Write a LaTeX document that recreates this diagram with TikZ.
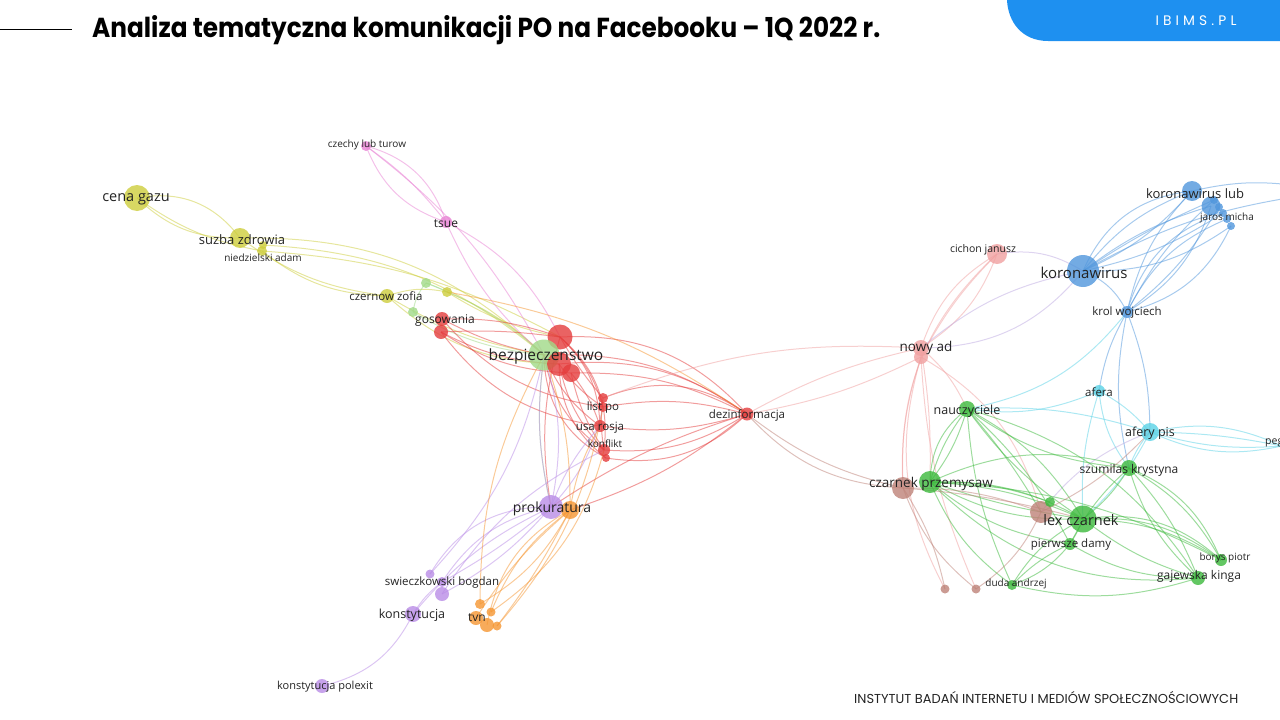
\documentclass[tikz,border=0pt]{standalone}
\usepackage{fontspec}
\usepackage{graphicx}
\newfontfamily\labfont{Open Sans}
\newfontfamily\titlefont{Poppins}
\usetikzlibrary{backgrounds}
\definecolor{cYel}{RGB}{205,205,60}
\definecolor{cLgr}{RGB}{160,218,135}
\definecolor{cRed}{RGB}{228,60,60}
\definecolor{cPink}{RGB}{232,130,212}
\definecolor{cPur}{RGB}{185,140,230}
\definecolor{cOra}{RGB}{245,150,50}
\definecolor{cSal}{RGB}{240,160,160}
\definecolor{cBlue}{RGB}{80,150,220}
\definecolor{cCyan}{RGB}{90,210,230}
\definecolor{cGreen}{RGB}{60,185,60}
\definecolor{cBrown}{RGB}{190,130,120}
\definecolor{cLav}{RGB}{190,170,225}
\definecolor{labc}{RGB}{35,35,35}
\definecolor{cBanner}{RGB}{30,144,240}
\tikzset{
  dot/.style={circle, fill=#1, fill opacity=0.8, draw=none, inner sep=0pt},
  e/.style={draw=#1, line width=1pt, draw opacity=0.5},
  lab/.style={text=labc, inner sep=0pt, yshift=-1.5pt, font=\labfont\fontsize{#1}{#1}\selectfont},
}
\begin{document}
\begin{tikzpicture}[x=1pt,y=-1pt]
\useasboundingbox (0,0) rectangle (1280,720);
\clip (0,0) rectangle (1280,720);

% header
\draw[line width=0.8pt] (0,29) coordinate (hl1) -- (72,29) coordinate (hl2);
\node[anchor=base west, inner sep=0pt] (title) at (92,37)
  {\resizebox{788pt}{22pt}{\titlefont\bfseries Analiza tematyczna komunikacji PO na Facebooku – 1Q 2022 r.}};
\fill[cBanner] (1007,0) -- (1280,0) -- (1280,41) -- (1048,41) .. controls (1022,41) and (1008,22) .. (1007,0) -- cycle;
\node[text=white, inner sep=0pt] (ibims) at (1196,21)
  {\resizebox{81pt}{!}{\titlefont\addfontfeature{LetterSpace=30}IBIMS.PL}};
\node[anchor=base west, inner sep=0pt, text=labc] (foot) at (854,703)
  {\resizebox{384pt}{!}{\titlefont\fontsize{11}{11}\selectfont INSTYTUT BADAŃ INTERNETU I MEDIÓW SPOŁECZNOŚCIOWYCH}};

% ---------------- nodes (circles)
% yellow
\node[dot=cYel, minimum size=26pt] (cena) at (137,198) {};
\node[dot=cYel, minimum size=20pt] (suzba) at (240,238) {};
\node[dot=cYel, minimum size=8pt] (niedzb) at (263,245) {};
\node[dot=cYel, minimum size=10pt] (niedz) at (262,251) {};
\node[dot=cYel, minimum size=14pt] (czernow) at (387,296) {};
\node[dot=cYel, minimum size=10pt] (yelb) at (447,292) {};
% light green
\node[dot=cLgr, minimum size=10pt] (lga) at (426,283) {};
\node[dot=cLgr, minimum size=10pt] (lgb) at (413,312) {};
% red
\node[dot=cRed, minimum size=14pt] (gos) at (442,319) {};
\node[dot=cRed, minimum size=14pt] (gosb) at (441,332) {};
\node[dot=cRed, minimum size=25pt] (reda) at (560,337) {};
\node[dot=cLgr, minimum size=31pt] (bezp) at (544,355) {};
\node[dot=cRed, minimum size=24pt] (redb) at (559,364) {};
\node[dot=cRed, minimum size=18pt] (redc) at (571,373) {};
\node[dot=cRed, minimum size=10pt] (lista) at (603,398) {};
\node[dot=cRed, minimum size=10pt] (list) at (603,407) {};
\node[dot=cRed, minimum size=12pt] (usa) at (600,426) {};
\node[dot=cRed, minimum size=12pt] (konf) at (604,450) {};
\node[dot=cRed, minimum size=8pt] (konfb) at (606,458) {};
\node[dot=cRed, minimum size=13pt] (dez) at (747,414) {};
% pink
\node[dot=cPink, minimum size=10pt] (czechy) at (366,146) {};
\node[dot=cPink, minimum size=12pt] (tsue) at (446,222) {};
% purple / orange
\node[dot=cPur, minimum size=24pt] (prok) at (551,507) {};
\node[dot=cOra, minimum size=18pt] (oraa) at (570,510) {};
\node[dot=cPur, minimum size=9pt] (swa) at (430,574) {};
\node[dot=cPur, minimum size=10pt] (sw) at (442,582) {};
\node[dot=cPur, minimum size=14pt] (swb) at (442,594) {};
\node[dot=cPur, minimum size=16pt] (konst) at (413,614) {};
\node[dot=cPur, minimum size=14pt] (polexit) at (322,686) {};
\node[dot=cOra, minimum size=10pt] (tva) at (480,604) {};
\node[dot=cOra, minimum size=9pt] (tvb) at (491,612) {};
\node[dot=cOra, minimum size=14pt] (tvn) at (476,618) {};
\node[dot=cOra, minimum size=14pt] (tvc) at (487,625) {};
\node[dot=cOra, minimum size=9pt] (tvd) at (497,626) {};
% salmon
\node[dot=cSal, minimum size=16pt] (nowy) at (921,348) {};
\node[dot=cSal, minimum size=14pt] (nowyb) at (921,357) {};
\node[dot=cSal, minimum size=20pt] (cichon) at (997,254) {};
% blue
\node[dot=cBlue, minimum size=32pt] (koro) at (1083,271) {};
\node[dot=cBlue, minimum size=20pt] (korolub) at (1192,191) {};
\node[dot=cBlue, minimum size=19pt] (blb) at (1211,206) {};
\node[dot=cBlue, minimum size=8pt] (jar1) at (1214,200) {};
\node[dot=cBlue, minimum size=8pt] (jar2) at (1219,207) {};
\node[dot=cBlue, minimum size=8pt] (jar3) at (1223,213) {};
\node[dot=cBlue, minimum size=8pt] (jar4) at (1227,219) {};
\node[dot=cBlue, minimum size=8pt] (jar5) at (1231,226) {};
\node[dot=cBlue, minimum size=12pt] (krol) at (1127,312) {};
\coordinate (offa) at (1300,196);
\coordinate (offb) at (1300,186);
% cyan
\node[dot=cCyan, minimum size=12pt] (afera) at (1099,391) {};
\node[dot=cCyan, minimum size=18pt] (aferypis) at (1150,432) {};
\coordinate (peg) at (1282,446);
% green / brown
\node[dot=cGreen, minimum size=16pt] (naucz) at (967,409) {};
\node[dot=cBrown, minimum size=22pt] (czb) at (903,488) {};
\node[dot=cGreen, minimum size=22pt] (czarnek) at (930,482) {};
\node[dot=cBrown, minimum size=22pt] (lexb) at (1041,512) {};
\node[dot=cGreen, minimum size=10pt] (grsm) at (1050,502) {};
\node[dot=cGreen, minimum size=27pt] (lex) at (1083,519) {};
\node[dot=cGreen, minimum size=12pt] (pierw) at (1070,544) {};
\node[dot=cGreen, minimum size=16pt] (szum) at (1129,468) {};
\node[dot=cGreen, minimum size=14pt] (gaj) at (1198,578) {};
\node[dot=cGreen, minimum size=12pt] (borys) at (1221,560) {};
\node[dot=cGreen, minimum size=10pt] (duda) at (1012,585) {};
\node[dot=cBrown, minimum size=9pt] (bra) at (945,589) {};
\node[dot=cBrown, minimum size=9pt] (brb) at (976,589) {};

% ---------------- edges
\begin{scope}[on background layer]
% yellow
\draw[e=cYel] (cena.center) to[bend left=32] (suzba.center);
\draw[e=cYel] (cena.center) to[bend right=22] (suzba.center);
\draw[e=cYel] (cena.center) to[bend right=12] (niedz.center);
\draw[e=cYel] (suzba.center) to[bend left=22] (bezp.center);
\draw[e=cYel] (niedzb.center) to[bend left=18] (bezp.center);
\draw[e=cYel] (niedz.center) to[bend right=18] (czernow.center);
\draw[e=cYel] (suzba.center) to[bend right=14] (czernow.center);
\draw[e=cYel] (niedz.center) to[bend left=12] (reda.center);
\draw[e=cYel] (czernow.center) to[bend left=15] (yelb.center);
\draw[e=cYel] (czernow.center) to[bend right=10] (bezp.center);
\draw[e=cYel] (czernow.center) to[bend right=20] (redb.center);
\draw[e=cYel] (yelb.center) to[bend left=10] (bezp.center);
\draw[e=cYel] (yelb.center) to[bend right=10] (reda.center);
% light green
\draw[e=cLgr] (lga.center) to[bend left=10] (bezp.center);
\draw[e=cLgr] (lgb.center) to[bend right=12] (bezp.center);
\draw[e=cLgr] (lga.center) to[bend right=15] (lgb.center);
\draw[e=cLgr] (lga.center) to[bend left=5] (yelb.center);
\draw[e=cLgr] (bezp.center) to[bend right=10] (prok.center);
% pink
\draw[e=cPink] (czechy.center) to[bend left=28] (tsue.center);
\draw[e=cPink] (czechy.center) to[bend right=25] (tsue.center);
\draw[e=cPink] (czechy.center) to[bend left=8] (tsue.center);
\draw[e=cPink] (tsue.center) to[bend left=18] (reda.center);
\draw[e=cPink] (tsue.center) to[bend right=12] (bezp.center);
\draw[e=cPink] (czechy.center) to[bend left=12] (bezp.center);
% red
\draw[e=cRed] (gos.center) to[bend left=10] (reda.center);
\draw[e=cRed] (gos.center) to[bend right=8] (bezp.center);
\draw[e=cRed] (gosb.center) to[bend right=12] (redb.center);
\draw[e=cRed] (gosb.center) to[bend left=5] (reda.center);
\draw[e=cRed] (gos.center) to[bend right=20] (list.center);
\draw[e=cRed] (gosb.center) to[bend right=22] (usa.center);
\draw[e=cRed] (gosb.center) to[bend right=15] (redc.center);
\draw[e=cRed] (reda.center) to[bend left=15] (list.center);
\draw[e=cRed] (reda.center) to[bend left=22] (usa.center);
\draw[e=cRed] (reda.center) to[bend left=28] (konf.center);
\draw[e=cRed] (reda.center) to[bend right=5] (lista.center);
\draw[e=cRed] (redb.center) to[bend right=10] (list.center);
\draw[e=cRed] (redb.center) to[bend right=15] (konf.center);
\draw[e=cRed] (redb.center) to[bend right=25] (konfb.center);
\draw[e=cRed] (redc.center) to[bend left=10] (usa.center);
\draw[e=cRed] (redc.center) to[bend right=10] (konf.center);
\draw[e=cRed] (bezp.center) to[bend right=22] (konf.center);
\draw[e=cRed] (bezp.center) to[bend right=15] (usa.center);
\draw[e=cRed] (bezp.center) to[bend right=30] (konfb.center);
\draw[e=cRed] (reda.center) to[bend left=25] (dez.center);
\draw[e=cRed] (redb.center) to[bend left=20] (dez.center);
\draw[e=cRed] (redc.center) to[bend left=14] (dez.center);
\draw[e=cRed] (bezp.center) to[bend left=18] (dez.center);
\draw[e=cRed] (lista.center) to[bend left=28] (dez.center);
\draw[e=cRed] (list.center) to[bend left=12] (dez.center);
\draw[e=cRed] (usa.center) to[bend right=12] (dez.center);
\draw[e=cRed] (konf.center) to[bend right=18] (dez.center);
\draw[e=cRed] (konfb.center) to[bend right=26] (dez.center);
\draw[e=cRed] (lista.center) to[bend right=8] (konf.center);
\draw[e=cRed] (dez.center) to[bend left=10] (oraa.center);
\draw[e=cRed] (dez.center) to[bend right=8] (prok.center);
\draw[e=cRed] (reda.center) to[bend right=12] (prok.center);
% to the right
\draw[e=cSal] (dez.center) to[bend left=8] (nowy.center);
\draw[e=cSal] (dez.center) to[bend right=8] (nowyb.center);
\draw[e=cSal] (lista.center) to[bend left=12] (nowy.center);
\draw[e=cBrown] (dez.center) to[bend right=22] (czb.center);
\draw[e=cBrown] (dez.center) to[bend right=12] (czb.center);
% purple
\draw[e=cPur] (prok.center) to[bend left=10] (bezp.center);
\draw[e=cPur] (prok.center) to[bend right=14] (bezp.center);
\draw[e=cPur] (prok.center) to[bend right=15] (list.center);
\draw[e=cPur] (prok.center) to[bend left=10] (usa.center);
\draw[e=cPur] (prok.center) to[bend right=22] (sw.center);
\draw[e=cPur] (prok.center) to[bend right=30] (swa.center);
\draw[e=cPur] (prok.center) to[bend left=10] (swb.center);
\draw[e=cPur] (prok.center) to[bend right=12] (konst.center);
\draw[e=cPur] (prok.center) to[bend left=5] (sw.center);
\draw[e=cPur] (sw.center) to[bend right=10] (konst.center);
\draw[e=cPur] (konst.center) to[bend left=25] (polexit.center);
\draw[e=cPur] (swa.center) to[bend right=15] (bezp.center);
\draw[e=cPur] (swb.center) to[bend left=15] (konf.center);
% orange
\draw[e=cOra] (oraa.center) to[bend left=15] (tva.center);
\draw[e=cOra] (oraa.center) to[bend right=15] (tvb.center);
\draw[e=cOra] (oraa.center) to[bend right=25] (tvc.center);
\draw[e=cOra] (oraa.center) to[bend left=5] (tvd.center);
\draw[e=cOra] (oraa.center) to[bend right=8] (tvn.center);
\draw[e=cOra] (oraa.center) to[bend right=10] (bezp.center);
\draw[e=cOra] (oraa.center) to[bend left=10] (usa.center);
\draw[e=cOra] (tva.center) to[bend left=14] (bezp.center);
\draw[e=cOra] (tvd.center) to[bend right=15] (list.center);
\draw[e=cOra] (tvb.center) to[bend right=20] (konf.center);
\draw[e=cOra] (yelb.center) to[bend left=12] (dez.center);
% salmon cluster
\draw[e=cSal] (nowy.center) to[bend left=20] (cichon.center);
\draw[e=cSal] (nowy.center) to[bend right=18] (cichon.center);
\draw[e=cSal] (nowyb.center) to[bend left=8] (cichon.center);
\draw[e=cLav] (nowy.center) to[bend right=25] (koro.center);
\draw[e=cLav] (nowy.center) to[bend left=14] (koro.center);
\draw[e=cLav] (cichon.center) to[bend left=20] (koro.center);
\draw[e=cSal] (nowy.center) to[bend left=12] (naucz.center);
\draw[e=cSal] (nowyb.center) to[bend right=10] (czb.center);
\draw[e=cSal] (nowy.center) to[bend left=5] (czarnek.center);
\draw[e=cSal] (nowyb.center) to[bend right=22] (bra.center);
\draw[e=cSal] (nowyb.center) to[bend right=10] (brb.center);
\draw[e=cSal] (nowyb.center) to[bend left=22] (lexb.center);
\draw[e=cSal] (cichon.center) to[bend right=25] (czb.center);
% blue
\draw[e=cBlue] (koro.center) to[bend left=15] (korolub.center);
\draw[e=cBlue] (koro.center) to[bend right=12] (korolub.center);
\draw[e=cBlue] (koro.center) to[bend left=30] (korolub.center);
\draw[e=cBlue] (koro.center) to[bend left=10] (blb.center);
\draw[e=cBlue] (koro.center) to[bend right=10] (jar3.center);
\draw[e=cBlue] (koro.center) to[bend right=18] (jar5.center);
\draw[e=cBlue] (koro.center) to[bend left=5] (jar1.center);
\draw[e=cBlue] (koro.center) to[bend left=20] (krol.center);
\draw[e=cBlue] (koro.center) to[bend left=10] (offa);
\draw[e=cBlue] (korolub.center) to[bend left=10] (offb);
\draw[e=cBlue] (krol.center) to[bend left=15] (korolub.center);
\draw[e=cBlue] (krol.center) to[bend right=20] (blb.center);
\draw[e=cBlue] (krol.center) to[bend left=10] (jar1.center);
\draw[e=cBlue] (krol.center) to[bend right=10] (jar2.center);
\draw[e=cBlue] (krol.center) to[bend left=20] (jar4.center);
\draw[e=cBlue] (krol.center) to[bend right=25] (jar5.center);
\draw[e=cBlue] (krol.center) to[bend left=28] (jar3.center);
\draw[e=cBlue] (krol.center) to[bend right=10] (afera.center);
\draw[e=cBlue] (krol.center) to[bend left=10] (aferypis.center);
\draw[e=cCyan] (krol.center) to[bend left=20] (naucz.center);
\draw[e=cBlue] (krol.center) to[bend right=12] (szum.center);
% cyan
\draw[e=cCyan] (afera.center) to[bend left=10] (aferypis.center);
\draw[e=cCyan] (afera.center) to[bend right=15] (szum.center);
\draw[e=cCyan] (afera.center) to[bend left=15] (naucz.center);
\draw[e=cCyan] (afera.center) to[bend right=10] (lex.center);
\draw[e=cCyan] (aferypis.center) to[bend left=18] (peg);
\draw[e=cCyan] (aferypis.center) to[bend right=10] (peg);
\draw[e=cCyan] (aferypis.center) to[bend left=5] (peg);
\draw[e=cCyan] (aferypis.center) to[bend right=18] (peg);
\draw[e=cCyan] (aferypis.center) to[bend right=10] (szum.center);
\draw[e=cCyan] (aferypis.center) to[bend right=10] (naucz.center);
\draw[e=cCyan] (aferypis.center) to[bend left=10] (lex.center);
\draw[e=cLav] (aferypis.center) to[bend right=15] (lexb.center);
% green
\draw[e=cGreen] (naucz.center) to[bend right=10] (czarnek.center);
\draw[e=cGreen] (naucz.center) to[bend left=10] (czarnek.center);
\draw[e=cGreen] (naucz.center) to[bend right=25] (czarnek.center);
\draw[e=cGreen] (naucz.center) to[bend left=15] (lex.center);
\draw[e=cGreen] (naucz.center) to[bend right=10] (lex.center);
\draw[e=cGreen] (naucz.center) to[bend right=15] (szum.center);
\draw[e=cGreen] (naucz.center) to[bend left=10] (pierw.center);
\draw[e=cGreen] (naucz.center) to[bend right=10] (duda.center);
\draw[e=cGreen] (naucz.center) to[bend left=20] (gaj.center);
\draw[e=cGreen] (naucz.center) to[bend left=5] (lexb.center);
\draw[e=cGreen] (czarnek.center) to[bend left=10] (lex.center);
\draw[e=cGreen] (czarnek.center) to[bend left=15] (lex.center);
\draw[e=cGreen] (czarnek.center) to[bend right=5] (lex.center);
\draw[e=cGreen] (czarnek.center) to[bend right=15] (lex.center);
\draw[e=cGreen] (czarnek.center) to[bend right=15] (pierw.center);
\draw[e=cGreen] (czarnek.center) to[bend right=15] (duda.center);
\draw[e=cGreen] (czarnek.center) to[bend right=25] (gaj.center);
\draw[e=cGreen] (czarnek.center) to[bend left=20] (szum.center);
\draw[e=cGreen] (czarnek.center) to[bend left=10] (grsm.center);
\draw[e=cGreen] (czarnek.center) to[bend left=12] (borys.center);
\draw[e=cGreen] (lex.center) to[bend left=5] (pierw.center);
\draw[e=cGreen] (lex.center) to[bend right=10] (gaj.center);
\draw[e=cGreen] (lex.center) to[bend left=15] (borys.center);
\draw[e=cGreen] (lex.center) to[bend left=20] (borys.center);
\draw[e=cGreen] (lex.center) to[bend left=25] (borys.center);
\draw[e=cGreen] (lex.center) to[bend right=10] (szum.center);
\draw[e=cGreen] (lex.center) to[bend right=15] (duda.center);
\draw[e=cGreen] (szum.center) to[bend right=15] (gaj.center);
\draw[e=cGreen] (szum.center) to[bend left=10] (gaj.center);
\draw[e=cGreen] (szum.center) to[bend left=15] (borys.center);
\draw[e=cGreen] (szum.center) to[bend left=22] (borys.center);
\draw[e=cGreen] (szum.center) to[bend right=10] (pierw.center);
\draw[e=cGreen] (pierw.center) to[bend right=10] (duda.center);
\draw[e=cGreen] (pierw.center) to[bend left=15] (duda.center);
\draw[e=cGreen] (pierw.center) to[bend right=15] (gaj.center);
\draw[e=cGreen] (duda.center) to[bend right=15] (gaj.center);
% brown
\draw[e=cBrown] (czb.center) to[bend left=10] (lexb.center);
\draw[e=cBrown] (czb.center) to[bend left=10] (bra.center);
\draw[e=cBrown] (czb.center) to[bend right=15] (brb.center);
\draw[e=cBrown] (lexb.center) to[bend left=15] (brb.center);
\draw[e=cBrown] (czb.center) to[bend left=5] (lex.center);
\draw[e=cBrown] (lexb.center) to[bend right=10] (aferypis.center);
\end{scope}

% ---------------- labels
\node[lab=14.5] (l-cena) at (136,198) {cena gazu};
\node[lab=13] (l-suzba) at (242,238) {suzba zdrowia};
\node[lab=10] (l-niedz) at (263,256) {niedzielski adam};
\node[lab=11.5] (l-czernow) at (386,295) {czernow zofia};
\node[lab=10] (l-czechy) at (367,143) {czechy lub turow};
\node[lab=12] (l-tsue) at (446,222) {tsue};
\node[lab=12] (l-gos) at (445,319) {gosowania};
\node[lab=15.5] (l-bezp) at (546,355) {bezpieczenstwo};
\node[lab=11.5] (l-list) at (603,406) {list po};
\node[lab=11.5] (l-usa) at (600,426) {usa rosja};
\node[lab=10] (l-konf) at (605,442) {konflikt};
\node[lab=11.5] (l-dez) at (747,414) {dezinformacja};
\node[lab=14] (l-prok) at (552,507) {prokuratura};
\node[lab=11.5] (l-sw) at (442,581) {swieczkowski bogdan};
\node[lab=12.5] (l-konst) at (412,614) {konstytucja};
\node[lab=11] (l-polexit) at (325,685) {konstytucja polexit};
\node[lab=12] (l-tvn) at (477,616) {tvn};
\node[lab=10.5] (l-cichon) at (983,248) {cichon janusz};
\node[lab=13.5] (l-nowy) at (926,346) {nowy ad};
\node[lab=15] (l-koro) at (1084,271) {koronawirus};
\node[lab=13] (l-korolub) at (1195,192) {koronawirus lub};
\node[lab=10] (l-jaros) at (1227,216) {jaros micha};
\node[lab=11.5] (l-krol) at (1127,311) {krol wojciech};
\node[lab=11.5] (l-afera) at (1099,391) {afera};
\node[lab=12.5] (l-aferypis) at (1150,432) {afery pis};
\node[lab=10.5, anchor=west] (l-peg) at (1265,441) {pegasus};
\node[lab=12.5] (l-naucz) at (967,410) {nauczyciele};
\node[lab=13.5] (l-czarnek) at (931,482) {czarnek przemysaw};
\node[lab=14.5] (l-lex) at (1081,519) {lex czarnek};
\node[lab=12] (l-szum) at (1129,469) {szumilas krystyna};
\node[lab=11.5] (l-pierw) at (1071,543) {pierwsze damy};
\node[lab=12] (l-gaj) at (1199,575) {gajewska kinga};
\node[lab=10] (l-borys) at (1225,556) {borys piotr};
\node[lab=10] (l-duda) at (1016,582) {duda andrzej};
\end{tikzpicture}
\end{document}
